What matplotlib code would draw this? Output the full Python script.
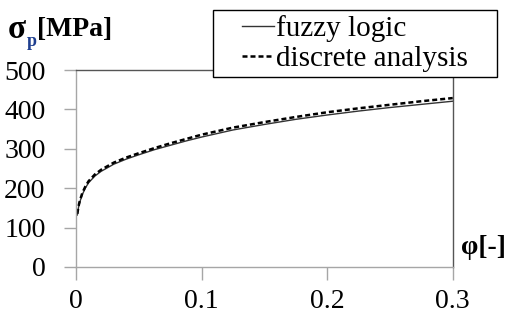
import matplotlib
matplotlib.use("Agg")
import matplotlib.pyplot as plt
from matplotlib.lines import Line2D
from matplotlib.patches import Rectangle

# values
phi = [0.001, 0.002, 0.003, 0.005, 0.0075, 0.01, 0.015, 0.02, 0.03, 0.04, 0.05,
       0.0625, 0.075, 0.0875, 0.1, 0.125, 0.15, 0.175, 0.2, 0.225, 0.25, 0.275, 0.3]
fuzzy = [132, 152, 165, 184, 201, 214, 231, 243, 261, 274, 285,
         298, 309, 320, 330, 348, 362, 375, 386, 396, 405, 413, 421]
discrete = [135, 155, 168, 188, 205, 218, 235, 247, 265, 278, 289,
            302, 314, 325, 336, 354, 368, 381, 393, 403, 412, 421, 429]

xticks = [0, 0.1, 0.2, 0.3]
xticklabels = ["0", "0.1", "0.2", "0.3"]
yticks = [0, 100, 200, 300, 400, 500]

plt.rcParams["font.family"] = ["Liberation Serif", "DejaVu Serif"]
FS = 20

fig = plt.figure(figsize=(5.07, 3.13), dpi=100)
ax = fig.add_axes([0.150, 0.147, 0.743, 0.629])

ax.plot(phi, fuzzy, "-", color="#333333", lw=1.0)
ax.plot(phi, discrete, color="black", lw=1.8, dashes=(2.0, 1.2))

ax.set_xlim(0, 0.3)
ax.set_ylim(0, 500)
ax.set_xticks(xticks)
ax.set_xticklabels(xticklabels)
ax.set_yticks(yticks)
ax.tick_params(axis="both", labelsize=FS, color="#a6a6a6", length=9, width=1)
ax.tick_params(axis="y", pad=13)
ax.tick_params(axis="x", pad=7)
for k in ["left", "bottom"]:
    ax.spines[k].set_color("#a6a6a6")
for k in ["top", "right"]:
    ax.spines[k].set_color("#555555")
for s in ax.spines.values():
    s.set_linewidth(1)

# axis titles
fig.text(8 / 507, 0.905, "σ", fontsize=24, fontweight="bold", va="center", ha="left")
fig.text(27 / 507, 0.895, "p", fontsize=13, fontweight="bold", color="#1f3f8f",
         va="top", ha="left")
fig.text(37 / 507, 0.905, "[MPa]", fontsize=FS, fontweight="bold", va="center", ha="left")
fig.text(461 / 507, 0.21, "φ[-]", fontsize=FS, fontweight="bold", va="center", ha="left")

# legend box
fig.patches.append(Rectangle((213 / 507, 1 - 77 / 313), 284 / 507, 67 / 313,
                             transform=fig.transFigure, facecolor="white",
                             edgecolor="black", lw=1, zorder=2))
handles = [Line2D([], [], color="#333333", lw=1.0),
           Line2D([], [], color="black", lw=1.8, dashes=(2.0, 1.2))]
leg = fig.legend(handles, ["fuzzy logic", "discrete analysis"],
                 loc="upper left", bbox_to_anchor=(242 / 507, 1 - 15 / 313),
                 fontsize=21, frameon=False, handlelength=1.1, handletextpad=0.05,
                 borderpad=0, labelspacing=0.12, borderaxespad=0)
leg.set_zorder(3)

fig.savefig("out.png", dpi=100)
